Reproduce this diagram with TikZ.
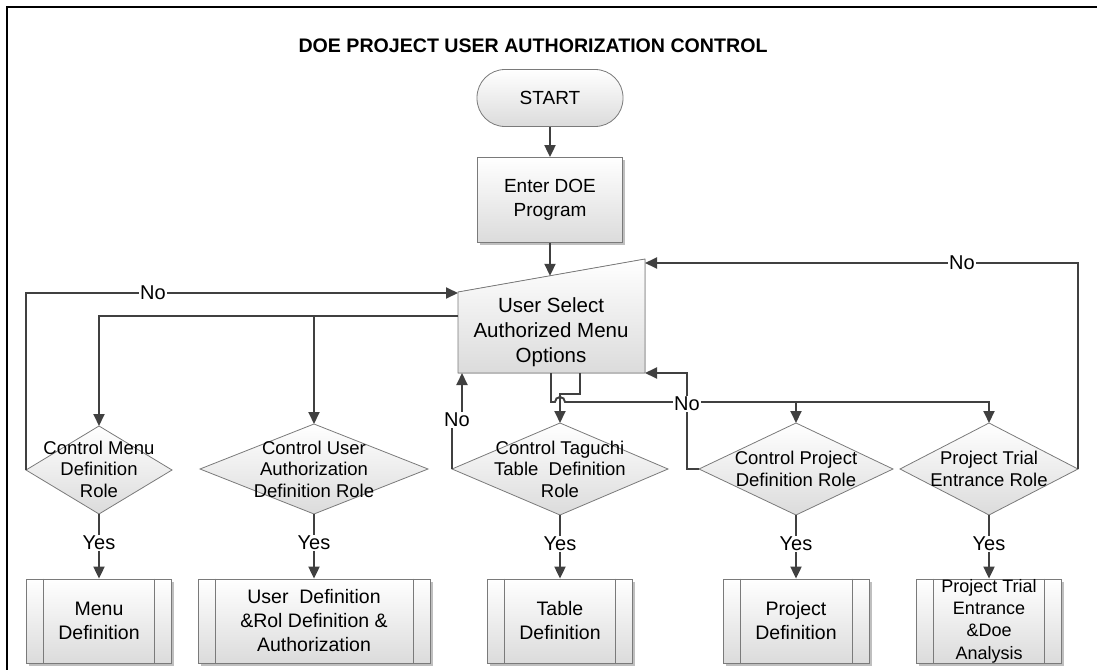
\documentclass[tikz,border=0pt]{standalone}
\usepackage{fontspec}
\setmainfont{Liberation Sans}
\usetikzlibrary{shapes.geometric,shadows,arrows.meta,calc}
\definecolor{ln}{HTML}{404040}
\definecolor{bd}{HTML}{7A7A7A}
\tikzset{
  txt/.style={align=center, inner sep=0pt, font=\fontsize{19}{24}\selectfont},
  dtxt/.style={align=center, inner sep=0pt, font=\fontsize{18.5}{21.5}\selectfont},
  shapefill/.style={draw=bd, line width=0.8pt, top color=white, bottom color=black!14},
  shad/.style={drop shadow={shadow xshift=2.5pt, shadow yshift=-2.5pt, opacity=0.25, fill=black}},
  boxnode/.style={shapefill, shad, rectangle, inner sep=0pt, minimum height=84pt, align=center, font=\fontsize{19.5}{24}\selectfont},
  diam/.style={shapefill, diamond, inner sep=0pt, outer sep=0pt},
  conn/.style={draw=ln, line width=1.9pt},
  arr/.style={conn, -{Triangle[length=12pt,width=11pt]}},
  lbl/.style={fill=white, inner sep=1pt, font=\fontsize{20}{24}\selectfont},
}
\newcommand{\subbars}[1]{%
  \draw[draw=bd, line width=0.8pt] ($(#1.north west)+(17.5,0)$) -- ($(#1.south west)+(17.5,0)$)
    ($(#1.north east)+(-17.5,0)$) -- ($(#1.south east)+(-17.5,0)$);}
\begin{document}
\begin{tikzpicture}[x=1pt,y=-1pt]
\useasboundingbox (0,0) rectangle (1097,669);
% frame
\draw[line width=2.5pt] (7,672) -- (7,7) -- (1100,7);
% title
\node[font=\bfseries\fontsize{19.6}{24}\selectfont] (title) at (533,46) {DOE PROJECT USER AUTHORIZATION CONTROL};
% start
\node[shapefill, rectangle, rounded corners=28pt, minimum width=146pt, minimum height=57pt, txt] (start) at (550,98) {START};
% enter
\node[shapefill, shad, rectangle, minimum width=145pt, minimum height=85pt, txt] (enter) at (550,200) {Enter DOE\\Program};
% user select (manual input)
\filldraw[shapefill] (458,292) -- (645,259) -- (645,373) -- (458,373) -- cycle;
\node[txt, font=\fontsize{20.5}{25}\selectfont] (us) at (551,332) {User Select\\Authorized Menu\\Options};
\coordinate (usTop) at (550,275.8);
\coordinate (usTL) at (458,293);
\coordinate (usL) at (458,316);
\coordinate (usTR) at (645,263);
\coordinate (usBR) at (645,373);
\coordinate (usB1) at (551,373);
\coordinate (usB2) at (580,373);
\coordinate (usBL) at (462,373);
\coordinate (hline) at (0,402);
% diamonds
\node[diam, minimum width=146pt, minimum height=88pt] (d1) at (99,470) {};
\node[dtxt] (t1) at (99,469) {Control Menu\\Definition\\Role};
\node[diam, minimum width=228pt, minimum height=90pt] (d2) at (314,469) {};
\node[dtxt] (t2) at (314,469) {Control User\\Authorization\\Definition Role};
\node[diam, minimum width=216pt, minimum height=92pt] (d3) at (560,469) {};
\node[dtxt] (t3) at (560,469) {Control Taguchi\\Table\ \ Definition\\Role};
\node[diam, minimum width=194pt, minimum height=92pt] (d4) at (796,469) {};
\node[dtxt] (t4) at (796,469) {Control Project\\Definition Role};
\node[diam, minimum width=178pt, minimum height=92pt] (d5) at (989,469) {};
\node[dtxt] (t5) at (989,469) {Project Trial\\Entrance Role};
% boxes
\node[boxnode, minimum width=145pt] (b1) at (99,621) {Menu\\Definition};
\node[boxnode, minimum width=232pt] (b2) at (314,621) {User\ \ Definition\\\&Rol Definition \&\\Authorization};
\node[boxnode, minimum width=145pt] (b3) at (560,621) {Table\\Definition};
\node[boxnode, minimum width=146pt] (b4) at (796,621) {Project\\Definition};
\node[boxnode, minimum width=145pt, font=\fontsize{18}{22.3}\selectfont] (b5) at (989,621) {Project Trial\\Entrance\\\&Doe\\Analysis};
\subbars{b1}\subbars{b2}\subbars{b3}\subbars{b4}\subbars{b5}
% connectors
\draw[arr] (start) -- (enter);
\draw[arr] (enter) -- (usTop);
\draw[arr] (d1.west) |- node[lbl, pos=0.647] {No} (usTL);
\draw[arr] (d5.east) |- node[lbl, pos=0.634] {No} (usTR);
\draw[arr] (usL) -| (d1.north);
\draw[arr] (d2.north |- usL) -- (d2.north);
\draw[arr] (usB2) |- ($(d3.north)+(0,-29)$) -- (d3.north);
\draw[arr] (usB1) |- (555,402) arc[start angle=180, end angle=360, radius=5] -| (d5.north);
\draw[arr] (d4.north |- hline) -- (d4.north);
\draw[arr] (d4.west) -- ++(-12,0) |- node[lbl, pos=0.338] {No} (usBR);
\draw[arr] (d3.west) -- (452,420) -- (462,420) -- (usBL);
\node[lbl] (no3) at (457,420) {No};
\foreach \d/\b in {d1/b1,d2/b2,d3/b3,d4/b4,d5/b5}
  \draw[arr] (\d.south) -- node[lbl, pos=0.45] {Yes} (\b.north);
\end{tikzpicture}
\end{document}
